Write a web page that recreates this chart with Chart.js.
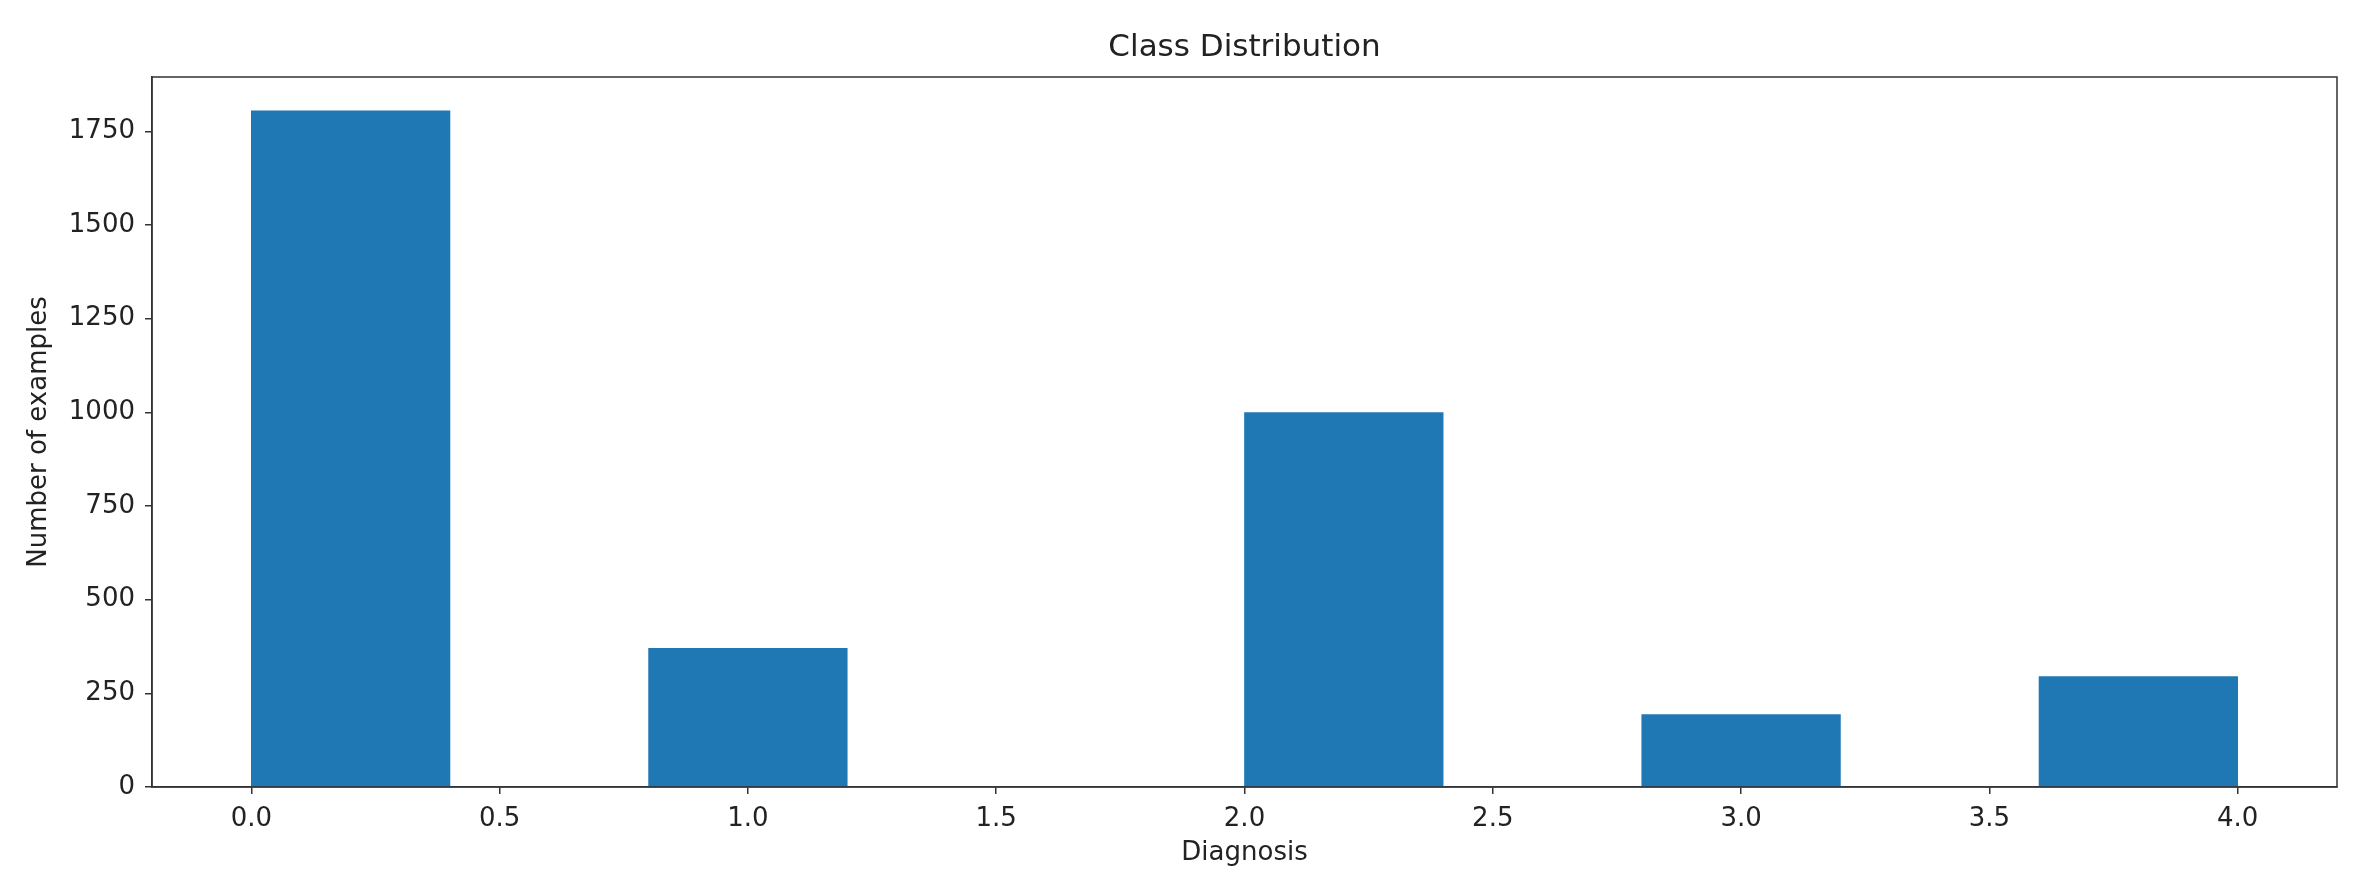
<!DOCTYPE html>
<html>
<head>
<meta charset="utf-8">
<script src="https://cdn.jsdelivr.net/npm/chart.js@4/dist/chart.umd.min.js"></script>
<style>
  html, body { margin: 0; padding: 0; background: #fff; }
  #wrap { width: 2358px; height: 889px; }
</style>
</head>
<body>
<div id="wrap"><canvas id="histChart"></canvas></div>
<script>
// histogram bins (10 bins from 0 to 4) and their counts
const binEdges = [0.0, 0.4, 0.8, 1.2, 1.6, 2.0, 2.4, 2.8, 3.2, 3.6, 4.0];
const binCounts = [1805, 0, 370, 0, 0, 999, 0, 193, 0, 295];
const xTickValues = [0.0, 0.5, 1.0, 1.5, 2.0, 2.5, 3.0, 3.5, 4.0];
const yTickValues = [0, 250, 500, 750, 1000, 1250, 1500, 1750];
const xRange = [-0.2, 4.2];
const yRange = [0, 1895];
const chartTitle = 'Class Distribution';

const barColor = '#1f77b4';
const axisColor = '#333333';
const textColor = '#222222';
const fontFamily = '"DejaVu Sans", sans-serif';

let points = [];
for (let i = 0; i < binCounts.length; i++) {
    points.push({x: (binEdges[i] + binEdges[i + 1]) / 2, y: binCounts[i]});
}

// matplotlib draws a full box around the axes and centres the title over it
const boxPlugin = {
    id: 'box',
    afterDraw(chart) {
        const a = chart.chartArea;
        const ctx = chart.ctx;
        ctx.save();
        ctx.strokeStyle = axisColor;
        ctx.lineWidth = 1.5;
        ctx.strokeRect(a.left, a.top, a.right - a.left, a.bottom - a.top);
        ctx.fillStyle = textColor;
        ctx.font = '31px ' + fontFamily;
        ctx.textAlign = 'center';
        ctx.textBaseline = 'middle';
        ctx.fillText(chartTitle, (a.left + a.right) / 2, 48);
        ctx.restore();
    }
};

const ctx = document.getElementById('histChart').getContext('2d');
const histChart = new Chart(ctx, {
    type: 'bar',
    data: {
      datasets: [{
        label: 'Diagnosis',
        data: points,
        backgroundColor: barColor,
        borderWidth: 0,
        barPercentage: 1.0,
        categoryPercentage: 1.0
      }]
    },
    options: {
      responsive: true,
      maintainAspectRatio: false,
      animation: false,
      layout: {
        padding: {left: 0, right: 21, top: 77, bottom: 0}
      },
      plugins: {
        legend: { display: false },
        tooltip: { enabled: false },
        title: { display: false }
      },
      scales: {
        x: {
          type: 'linear',
          offset: false,
          min: xRange[0],
          max: xRange[1],
          afterBuildTicks: scale => {
            scale.ticks = xTickValues.map(v => ({value: v}));
          },
          afterFit: scale => { scale.height = 102; },
          ticks: {
            color: textColor,
            font: { family: fontFamily, size: 26 },
            padding: 10,
            maxRotation: 0,
            autoSkip: false,
            callback: v => Number(v).toFixed(1)
          },
          grid: {
            offset: false,
            drawOnChartArea: false,
            drawTicks: true,
            tickLength: 7,
            color: axisColor,
            lineWidth: 1.5
          },
          border: { display: true, color: axisColor, width: 1.5 },
          title: {
            display: true,
            text: 'Diagnosis',
            color: textColor,
            font: { family: fontFamily, size: 26 },
            padding: { top: 0, bottom: 20 }
          }
        },
        y: {
          type: 'linear',
          min: yRange[0],
          max: yRange[1],
          afterBuildTicks: scale => {
            scale.ticks = yTickValues.map(v => ({value: v}));
          },
          afterFit: scale => { scale.width = 152; },
          ticks: {
            color: textColor,
            font: { family: fontFamily, size: 26 },
            padding: 10,
            autoSkip: false,
            callback: v => String(v)
          },
          grid: {
            drawOnChartArea: false,
            drawTicks: true,
            tickLength: 7,
            color: axisColor,
            lineWidth: 1.5
          },
          border: { display: true, color: axisColor, width: 1.5 },
          title: {
            display: true,
            text: 'Number of examples',
            color: textColor,
            font: { family: fontFamily, size: 26 },
            padding: { top: 24, bottom: 0 }
          }
        }
      }
    },
    plugins: [boxPlugin]
});
</script>
</body>
</html>
